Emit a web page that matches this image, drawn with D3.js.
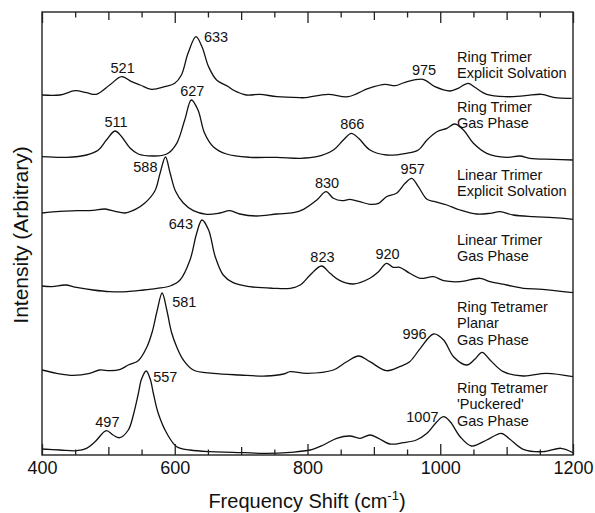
<!DOCTYPE html>
<html>
<head>
<meta charset="utf-8">
<script src="https://cdn.jsdelivr.net/npm/d3@7"></script>
<style>
  body { margin: 0; background: #fff; }
  svg { font-family: "Liberation Sans", Arial, Helvetica, sans-serif; }
</style>
</head>
<body>
<div id="chart"></div>
<script>

// spectra: [frequency shift (cm-1), intensity above own baseline]
const ringTrimerSolv = [[400,0],[427,0],[450,4.3],[467,2.3],[482,0.7],[502,10],[520,18.3],[535,13.3],[548,10],[565,5.7],[585,8.3],[600,11.7],[610,20],[620,41.7],[632,58.3],[641,48.3],[651,28.3],[663,15],[681,8.3],[688,5],[708,0],[728,0.7],[754,-1.7],[789,-2.7],[796,-2.7],[831,0.7],[861,-1.7],[892,6.7],[917,10.7],[932,9.3],[947,12.7],[974,15.7],[992,8.3],[1015,4],[1027,6.7],[1042,11.7],[1052,7.7],[1070,0.7],[1098,-1.7],[1128,-0.7],[1153,0.7],[1173,-2.7],[1198,-3.3]]

const ringTrimerGas = [[400,0.3],[437,-0.3],[467,2],[485,7],[497,17],[510,26],[520,20.3],[533,8.7],[545,3],[568,1],[588,3],[603,13.7],[615,37],[625,57],[635,47],[645,23.7],[658,10.3],[678,3],[713,-0.3],[754,-0.3],[789,-1.3],[814,0.3],[839,7],[854,17],[866,23.7],[877,18.7],[894,7],[919,2],[949,3.7],[967,7],[980,17],[995,25.3],[1010,28.7],[1022,33],[1035,27],[1050,13.7],[1070,3.7],[1100,-0.3],[1120,1],[1135,-1.3],[1170,-2.3],[1200,-3]]

const linearTrimerSolv = [[400,0],[427,1.7],[452,2.3],[477,2.7],[495,4],[510,1.7],[525,0],[540,3.3],[555,10],[570,22],[578,40],[586,56],[593,40],[601,22],[613,10],[628,2.3],[648,-1.3],[668,0],[683,2.3],[698,-1],[723,-3],[754,-1],[779,0.3],[794,3.7],[814,13],[828,21.3],[839,14.7],[852,12.3],[864,13.7],[879,11.3],[894,8.7],[907,9.7],[919,16.3],[934,19.7],[947,29.7],[957,34.7],[967,26.3],[980,13.7],[992,11.3],[1010,8],[1030,3],[1055,-1],[1075,-0.3],[1090,1.3],[1110,-2],[1140,-3.7],[1170,-4.7],[1200,-6.3]]

const linearTrimerGas = [[400,0],[415,-0.7],[435,1],[452,-1.3],[477,-4],[502,-5.7],[528,-5.7],[553,-4],[573,-2.3],[593,0],[608,6],[623,26],[633,52.7],[641,66],[651,56],[661,29.3],[673,11],[688,3.3],[713,-0.7],[748,-2.3],[774,-2.3],[789,1],[804,11],[821,20],[834,12.7],[849,5.3],[869,2],[894,7.7],[907,14.3],[919,22.7],[929,18.7],[939,18.7],[954,12.7],[970,7.7],[990,9.3],[1005,5.3],[1030,4.3],[1060,7.7],[1075,4.3],[1100,1],[1125,-2.3],[1154,-3.3],[1200,-6.7]]

const ringTetramerPlanar = [[400,0],[422,-3.3],[447,-5.3],[472,-3.3],[487,0],[502,-0.7],[518,0.7],[530,5],[545,9.3],[558,23],[566,38],[573,58],[581,77],[588,60],[595,38],[603,23],[613,10],[628,0],[658,-3.3],[698,-5],[738,-6],[764,-4],[774,-1.7],[799,-3.3],[839,0],[859,8.3],[877,14],[894,8.3],[919,-0.7],[939,3.3],[954,8.3],[970,21.7],[990,36],[1005,30],[1020,13.3],[1040,5],[1052,10.7],[1063,17.7],[1075,10],[1095,-1.7],[1125,-6],[1160,-3.3],[1200,-6.7]]

const ringTetramerPuckered = [[400,0],[427,-1],[452,-1.7],[467,0.7],[480,7.3],[497,18.3],[507,14],[517,11.3],[530,19],[538,35],[545,55],[550,70],[557,78],[563,70],[568,55],[575,36],[588,15.7],[603,2.3],[623,-1],[653,-2.7],[688,-3.3],[738,-4.3],[774,-3.3],[804,-1],[824,4],[844,10.7],[864,13],[879,10.7],[894,14],[907,10.7],[924,5],[944,6.3],[964,9],[980,15.7],[995,27.3],[1005,32.3],[1015,27.3],[1030,12.3],[1047,3],[1070,9],[1092,15.7],[1105,9.7],[1125,-0.3],[1155,-2.7],[1182,0.7],[1200,-3.7]]

const spectra = [ringTrimerSolv, ringTrimerGas, linearTrimerSolv, linearTrimerGas, ringTetramerPlanar, ringTetramerPuckered]

// vertical stacking offset of each spectrum (same units)
const offsets = [360, 298, 242, 169, 85, 6]

const names = [
    ['Ring Trimer', 'Explicit Solvation'],
    ['Ring Trimer', 'Gas Phase'],
    ['Linear Trimer', 'Explicit Solvation'],
    ['Linear Trimer', 'Gas Phase'],
    ['Ring Tetramer', 'Planar', 'Gas Phase'],
    ['Ring Tetramer', "'Puckered'", 'Gas Phase']
]

const peakLabels = [[521, 633, 975], [511, 627, 866], [588, 830, 957], [643, 823, 920], [581, 996], [557, 497, 1007]]

const xTicks = [400, 600, 800, 1000, 1200]

// ---------------------------------------------------------------

let width = 595,
    height = 513,
    margin = {left: 42, right: 22, top: 12, bottom: 58}

let svg = d3.select('#chart').append('svg')
    .attr('width', width)
    .attr('height', height)

let xScale = d3.scaleLinear().domain([400, 1200]).range([margin.left, width - margin.right])
let yScale = d3.scaleLinear().domain([0, 443]).range([height - margin.bottom, margin.top])

let line = d3.line()
    .curve(d3.curveCatmullRom.alpha(0.5))
    .x(function(d){ return xScale(d[0]) })

// where each peak number sits relative to its peak: [anchor, dx, dy]
let labelPlace = {
    633: ['start', 8, 5], 581: ['start', 10, 14], 557: ['start', 7, 11],
    588: ['end', -8, 15], 643: ['end', -9, 9], 996: ['end', -7, 5], 1007: ['end', -5, 5]
}
let nameLift = [33, 45, 33, 41, 58, 56]

spectra.forEach(function(s, i){

    let off = offsets[i]

    svg.append('path')
        .datum(s)
        .attr('fill', 'none')
        .attr('stroke', '#111')
        .attr('stroke-width', 1.3)
        .attr('d', line.y(function(d){ return yScale(d[1] + off) }))

    peakLabels[i].forEach(function(p){
        let near = s.filter(function(d){ return Math.abs(d[0] - p) <= 12 })
        let top = d3.greatest(near, function(d){ return d[1] })
        let px = xScale(top[0]), py = yScale(top[1] + off)
        let pl = labelPlace[p] || ['middle', 1, -4]
        svg.append('text')
            .attr('x', px + pl[1])
            .attr('y', py + pl[2])
            .attr('text-anchor', pl[0])
            .attr('font-size', 14.5)
            .attr('fill', '#111')
            .text(p)
    })

    let nm = svg.append('text')
        .attr('x', 457)
        .attr('y', yScale(off) - nameLift[i])
        .attr('font-size', 14.5)
        .attr('fill', '#111')
    names[i].forEach(function(t, k){
        nm.append('tspan')
            .attr('x', 457)
            .attr('dy', k == 0 ? 0 : 16.3)
            .text(t)
    })
})

// frame
svg.append('rect')
    .attr('x', margin.left)
    .attr('y', margin.top)
    .attr('width', width - margin.left - margin.right)
    .attr('height', height - margin.top - margin.bottom)
    .attr('fill', 'none')
    .attr('stroke', '#222')
    .attr('stroke-width', 1.4)

// inward ticks every 50, longer every 100 and 200
let minor = d3.range(400, 1201, 50)
function tickLen(v){ return v % 200 == 0 ? 11 : (v % 100 == 0 ? 8 : 5.5) }

svg.append('g')
    .attr('transform', 'translate(0,' + (height - margin.bottom) + ')')
    .call(d3.axisBottom(xScale).tickValues(minor).tickSizeInner(0).tickSizeOuter(0).tickFormat(''))
    .call(function(g){
        g.select('.domain').remove()
        g.selectAll('.tick line').attr('y2', function(d){ return -tickLen(d) }).attr('stroke', '#222').attr('stroke-width', 1.3)
    })

svg.append('g')
    .attr('transform', 'translate(0,' + margin.top + ')')
    .call(d3.axisTop(xScale).tickValues(minor).tickSizeInner(0).tickSizeOuter(0).tickFormat(''))
    .call(function(g){
        g.select('.domain').remove()
        g.selectAll('.tick line').attr('y2', function(d){ return tickLen(d) }).attr('stroke', '#222').attr('stroke-width', 1.3)
    })

svg.append('g')
    .attr('transform', 'translate(0,' + (height - margin.bottom) + ')')
    .call(d3.axisBottom(xScale).tickValues(xTicks).tickSize(0).tickPadding(0).tickFormat(d3.format('d')))
    .call(function(g){
        g.select('.domain').remove()
        g.selectAll('text').attr('dy', null).attr('y', 19).attr('font-size', 18).attr('fill', '#111')
            .attr('font-family', '"Liberation Sans", Arial, sans-serif')
    })

// axis titles
let xt = svg.append('text')
    .attr('x', 307)
    .attr('y', 508)
    .attr('text-anchor', 'middle')
    .attr('font-size', 20)
    .attr('fill', '#111')
xt.append('tspan').text('Frequency Shift (cm')
xt.append('tspan').attr('font-size', 13).attr('dy', -8).text('-1')
xt.append('tspan').attr('dy', 8).text(')')

svg.append('text')
    .attr('transform', 'translate(28,235) rotate(-90)')
    .attr('text-anchor', 'middle')
    .attr('font-size', 21)
    .attr('fill', '#111')
    .text('Intensity (Arbitrary)')

</script>
</body>
</html>
